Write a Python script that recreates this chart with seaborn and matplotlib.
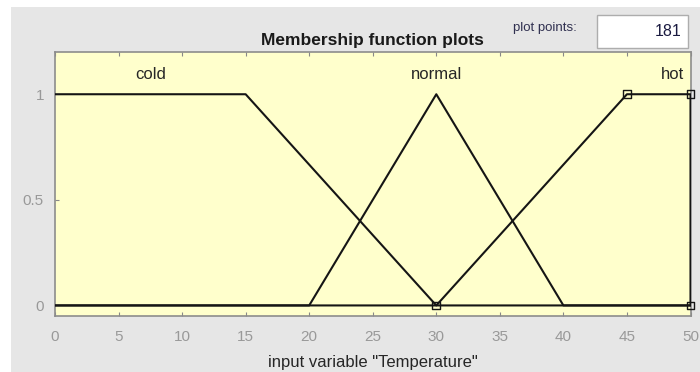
import numpy as np
import pandas as pd
import seaborn as sns
import matplotlib.pyplot as plt
from matplotlib.patches import Rectangle

# membership functions of input variable "Temperature"
cold_x = [0, 15, 30, 50]
cold_y = [1, 1, 0, 0]
normal_x = [0, 20, 30, 40, 50]
normal_y = [0, 0, 1, 0, 0]
hot_x = [0, 30, 45, 50, 50]
hot_y = [0, 0, 1, 1, 0]
hot_params_x = [30, 45, 50, 50]
hot_params_y = [0, 1, 1, 0]

mf_names = ['cold', 'normal', 'hot']
label_x = [7.5, 30, 48.6]
x_ticks = [0, 5, 10, 15, 20, 25, 30, 35, 40, 45, 50]
y_ticks = [0, 0.5, 1]
plot_points = 181

sns.set_style('ticks')
plt.rcParams['font.family'] = ['Liberation Sans', 'DejaVu Sans']

W, H = 700, 372
fig = plt.figure(figsize=(W / 100, H / 100), dpi=100, facecolor='white')
# grey panel of the GUI
fig.patches.append(Rectangle((11 / W, 0), 1, (H - 7) / H, transform=fig.transFigure,
                             facecolor='#e6e6e6', edgecolor='none', zorder=-10))

ax = fig.add_axes([55 / W, (H - 316) / H, (690.5 - 55) / W, (316 - 52) / H])
ax.set_facecolor('#ffffcc')

df = pd.concat([
    pd.DataFrame({'x': cold_x, 'y': cold_y, 'mf': 'cold'}),
    pd.DataFrame({'x': normal_x, 'y': normal_y, 'mf': 'normal'}),
    pd.DataFrame({'x': hot_x, 'y': hot_y, 'mf': 'hot'}),
])
for name in mf_names:
    d = df[df['mf'] == name]
    sns.lineplot(data=d, x='x', y='y', sort=False, estimator=None,
                 color='#151515', linewidth=1.5, ax=ax, zorder=3)

sns.scatterplot(x=hot_params_x, y=hot_params_y, marker='s', s=30,
                facecolor='none', edgecolor='#151515', linewidth=1.0,
                ax=ax, zorder=4, clip_on=False)

for name, lx in zip(mf_names, label_x):
    ax.text(lx, 1.095, name, ha='center', va='center', fontsize=12, color='#262626')

ax.set_xlim(0, 50)
ax.set_ylim(-0.05, 1.2)
ax.set_xticks(x_ticks)
ax.set_yticks(y_ticks)
ax.set_yticklabels(['0', '0.5', '1'])
ax.tick_params(axis='both', direction='in', length=3, width=0.8, color='#888888',
               labelcolor='#999999', labelsize=11, pad=8)
ax.tick_params(axis='x', top=True, pad=10)
for sp in ax.spines.values():
    sp.set_visible(True)
    sp.set_color('#8c8c8c')
    sp.set_linewidth(1.2)

ax.set_xlabel('input variable "Temperature"', fontsize=12, color='#262626', labelpad=8)
ax.set_ylabel('')
ax.set_title('Membership function plots', fontsize=12.5, fontweight='bold',
             color='#1a1a1a', pad=5)

# plot points widget
fig.text(545 / W, 1 - 28 / H, 'plot points:', fontsize=9.5, color='#303050',
         ha='center', va='center')
fig.patches.append(Rectangle((597 / W, 1 - 48 / H), 91 / W, 33 / H, transform=fig.transFigure,
                             facecolor='white', edgecolor='#adadad', linewidth=1.0, zorder=1))
fig.text(682 / W, 1 - 32 / H, str(plot_points), fontsize=11.5, color='#1a1a40',
         ha='right', va='center')

fig.savefig('out.png', dpi=100, facecolor=fig.get_facecolor())
